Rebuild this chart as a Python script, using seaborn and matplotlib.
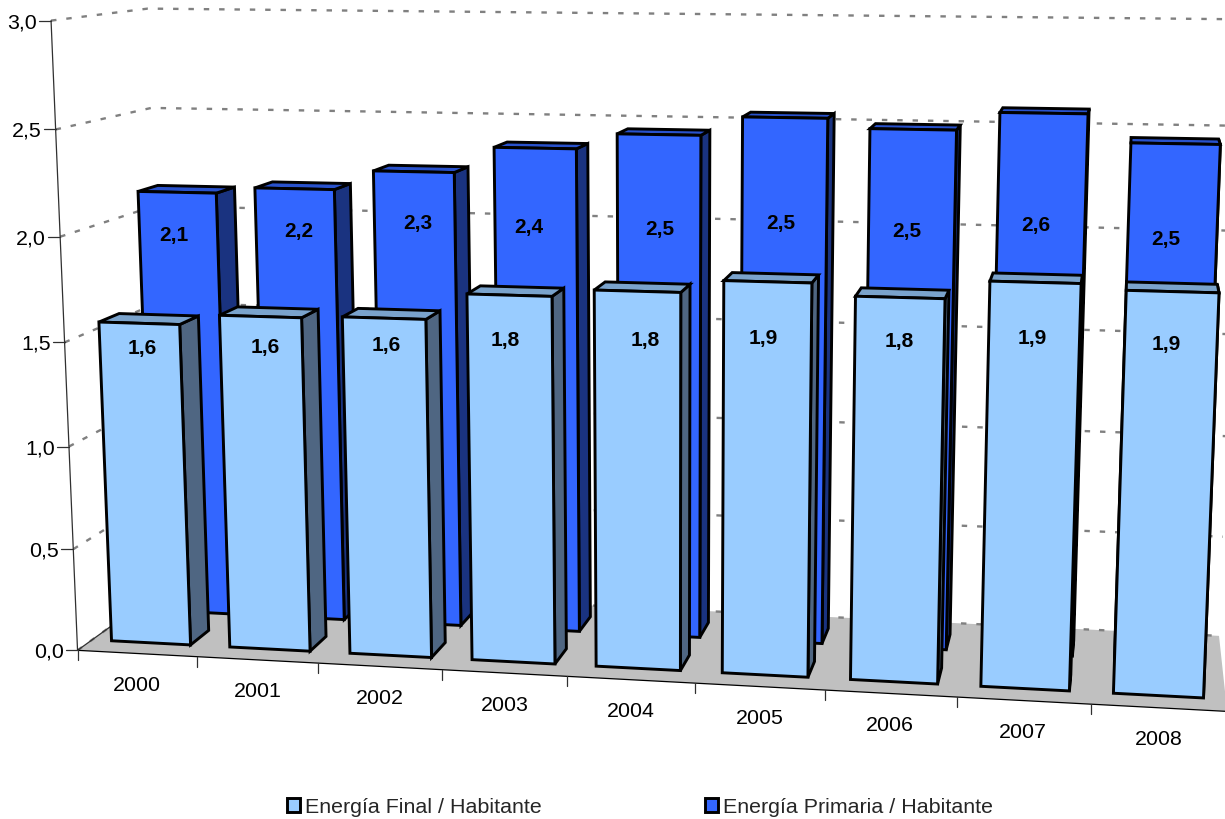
import matplotlib
matplotlib.use("Agg")
import matplotlib.pyplot as plt
from matplotlib import transforms as mtransforms
from matplotlib.patches import Patch, Polygon
import numpy as np
import seaborn as sns

years = ["2000", "2001", "2002", "2003", "2004", "2005", "2006", "2007", "2008"]
energia_final = [1.57, 1.62, 1.63, 1.755, 1.79, 1.85, 1.795, 1.88, 1.855]
energia_primaria = [2.13, 2.16, 2.255, 2.38, 2.455, 2.545, 2.50, 2.585, 2.455]
y_ticks = [0.0, 0.5, 1.0, 1.5, 2.0, 2.5, 3.0]

# layout of the fake 3D box: (category, value, depth) -> picture pixels
anchors = [
    ((0, 0, 0), (77, 652)), ((9, 0, 0), (1228, 712)),
    ((0, 3, 0), (52, 22)), ((0, 3, 0), (52, 22)), ((0, 1.5, 0), (64, 342)),
    ((3, 0, 0), (441, 672)), ((6, 0, 0), (824, 690)),
    ((0, 0, 1), (170, 586)), ((9, 0, 1), (1218, 637)),
    ((0, 3, 1), (146, 9)), ((9, 3, 1), (1243, 21)),
    ((9, 1.5, 1), (1232, 335)),
]
final_depth = (0.15, 0.36)
primaria_depth = (0.61, 0.83)
bar_width = 0.67

final_label_xy = [(142, 349), (265, 348), (386, 346), (505, 341), (645, 341),
                  (763, 339), (899, 342), (1032, 339), (1166, 345)]
primaria_label_xy = [(174, 235), (299, 232), (418, 224), (529, 227), (660, 230),
                     (781, 224), (907, 232), (1036, 225), (1166, 239)]

light, light_side, light_top = "#99CCFF", "#4F6682", "#7AA3CC"
blue, blue_side, blue_top = "#3366FF", "#1A3380", "#2952CC"
FONT = "Liberation Sans"


def fit_camera(pairs):
    rows = []
    for (x, y, z), (u, v) in pairs:
        X = [x / 9, y / 3, z, 1]
        u, v = u / 1000, v / 1000
        rows.append(X + [0, 0, 0, 0] + [-u * c for c in X])
        rows.append([0, 0, 0, 0] + X + [-v * c for c in X])
    return np.linalg.svd(np.array(rows))[2][-1].reshape(3, 4)


camera = fit_camera(anchors)


def project(x, y, z):
    x, y, z = np.broadcast_arrays(x, y, z)
    h = camera @ np.stack([x / 9, y / 3, z, np.ones_like(x, dtype=float)])
    return np.stack([1000 * h[0] / h[2], 1000 * h[1] / h[2]], axis=-1)


class FacePlane(mtransforms.Transform):
    # seaborn draws flat bars at 0..8, this stands them at one depth of the box
    input_dims = 2
    output_dims = 2

    def __init__(self, plane_z):
        super().__init__()
        self.plane_z = plane_z

    def transform_non_affine(self, values):
        values = np.asarray(values, dtype=float)
        return project(values[:, 0] + 0.5, values[:, 1], self.plane_z)


sns.set_theme(style="white")
plt.rcParams["font.family"] = [FONT, "DejaVu Sans"]
fig = plt.figure(figsize=(12.25, 8.2), dpi=100)
ax = fig.add_axes([0, 0, 1, 1])


def draw_series(values, depth, color, side, top, label_xy):
    z0, z1 = depth
    sns.barplot(x=years, y=values, ax=ax, color=color, saturation=1, width=bar_width,
                edgecolor="black", linewidth=2.1, zorder=5 if z0 < 0.5 else 3)
    bars = ax.containers[-1]
    for bar, value, xy in zip(bars, values, label_xy):
        bar.set_transform(FacePlane(z0) + ax.transData)
        left = bar.get_x() + 0.5
        right = left + bar.get_width()
        h = bar.get_height()
        side_face = project([right, right, right, right], [0, h, h, 0], [z0, z0, z1, z1])
        top_face = project([left, right, right, left], [h, h, h, h], [z0, z0, z1, z1])
        zorder = bar.get_zorder() - 0.5
        ax.add_patch(Polygon(side_face, fc=side, ec="black", lw=2.1, zorder=zorder))
        ax.add_patch(Polygon(top_face, fc=top, ec="black", lw=2.1, zorder=zorder))
        ax.text(xy[0], xy[1], f"{value:.1f}".replace(".", ","), ha="center", va="center",
                fontsize=15, fontweight="bold", color="black", zorder=7)


# floor, walls grid
floor = project([0, 9, 9, 0], [0, 0, 0, 0], [0, 0, 1, 1])
ax.add_patch(Polygon(floor, fc="#C0C0C0", ec="none", zorder=1))
for v in y_ticks:
    pts = project([0, 0, 9], [v, v, v], [0, 1, 1])
    ax.plot(pts[:, 0], pts[:, 1], color="#808080", lw=1.7, ls=(0, (2.3, 4.2)),
            dash_capstyle="butt", zorder=2)

draw_series(energia_primaria, primaria_depth, blue, blue_side, blue_top, primaria_label_xy)
draw_series(energia_final, final_depth, light, light_side, light_top, final_label_xy)

# axes lines and ticks
axis_color = "#303030"
pts = project([0, 0], [0, 3], [0, 0])
ax.plot(pts[:, 0], pts[:, 1], color=axis_color, lw=0.9, zorder=4)
pts = project([0, 9], [0, 0], [0, 0])
ax.plot(pts[:, 0], pts[:, 1], color="black", lw=0.9, zorder=4)
pts = project([0, 0], [0, 0], [0, 1])
ax.plot(pts[:, 0], pts[:, 1], color=axis_color, lw=0.9, zorder=2)
for v in y_ticks:
    x, y = project(0, v, 0)
    ax.plot([x - 12, x], [y, y], color=axis_color, lw=0.9, zorder=4)
    ax.text(x - 14, y + 1, f"{v:.1f}".replace(".", ","), ha="right", va="center",
            fontsize=15.4, color="black")
for i in range(len(years) + 1):
    x, y = project(i, 0, 0)
    ax.plot([x, x], [y, y + 10], color=axis_color, lw=0.9, zorder=4)
for i, year in enumerate(years):
    x, y = project(i + 0.5, 0, 0)
    ax.text(x, y + 31, year, ha="center", va="center", fontsize=15.4, color="black")

handles = [Patch(fc=light, ec="black", lw=2.1, label="Energía Final / Habitante"),
           Patch(fc=blue, ec="black", lw=2.1, label="Energía Primaria / Habitante")]
ax.legend(handles=handles, ncols=2, loc="center", bbox_to_anchor=(640 / 1225, 1 - 808 / 820),
          bbox_transform=fig.transFigure, frameon=False, fontsize=15.4, handlelength=0.62,
          handleheight=0.62, handletextpad=0.25, columnspacing=7.6, borderaxespad=0, borderpad=0)

ax.set_xlim(0, 1225)
ax.set_ylim(820, 0)
ax.axis("off")
fig.savefig("out.png", dpi=100)
